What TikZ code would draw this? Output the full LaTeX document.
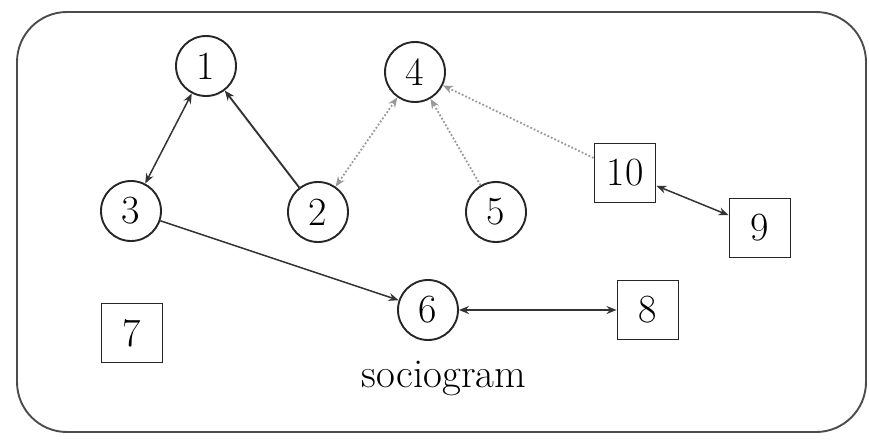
\documentclass[tikz,border=0pt]{standalone}
\usetikzlibrary{arrows.meta}
\begin{document}
\begin{tikzpicture}[x=1pt,y=-1pt,
  person/.style={circle,draw=black!85,line width=1.9pt,minimum size=60pt,inner sep=0pt,font=\fontsize{40}{48}\selectfont},
  boxp/.style={rectangle,draw=black!85,line width=1.9pt,minimum width=61pt,minimum height=59pt,inner sep=0pt,font=\fontsize{40}{48}\selectfont},
  tie/.style={draw=black!80,line width=1.5pt},
  weak/.style={draw=black!40,line width=1.8pt,dotted}]
\useasboundingbox (0,0) rectangle (869,440);
\draw[draw=black!70,line width=1.9pt,rounded corners=50pt] (17,12) rectangle (866,432);
\node[person] (n1) at (206,66) {1};
\node[person] (n3) at (131,211) {3};
\node[person] (n2) at (318,212) {2};
\node[person] (n4) at (415,72) {4};
\node[person] (n5) at (496,212) {5};
\node[person] (n6) at (428,310) {6};
\node[boxp] (n10) at (625,173) {10};
\node[boxp] (n9) at (760,228) {9};
\node[boxp] (n8) at (648,310) {8};
\node[boxp] (n7) at (132,333) {7};
\node[font=\fontsize{41}{48}\selectfont] (title) at (444,378) {sociogram};
\draw[tie,{Stealth[length=10pt,width=8pt]}-{Stealth[length=10pt,width=8pt]}] (n1) -- (n3);
\draw[tie,line width=1.9pt,-{Stealth[length=10pt,width=8pt]}] (n2) -- (n1);
\draw[weak,{Stealth[length=10pt,width=8pt]}-{Stealth[length=10pt,width=8pt]}] (n2) -- (n4);
\draw[weak,-{Stealth[length=10pt,width=8pt]}] (n5) -- (n4);
\draw[weak,-{Stealth[length=10pt,width=8pt]}] (n10) -- (n4);
\draw[tie,{Stealth[length=10pt,width=8pt]}-{Stealth[length=10pt,width=8pt]}] (n10) -- (n9);
\draw[tie,-{Stealth[length=10pt,width=8pt]}] (n3) -- (n6);
\draw[tie,{Stealth[length=10pt,width=8pt]}-{Stealth[length=10pt,width=8pt]}] (n6) -- (n8);
\end{tikzpicture}
\end{document}
